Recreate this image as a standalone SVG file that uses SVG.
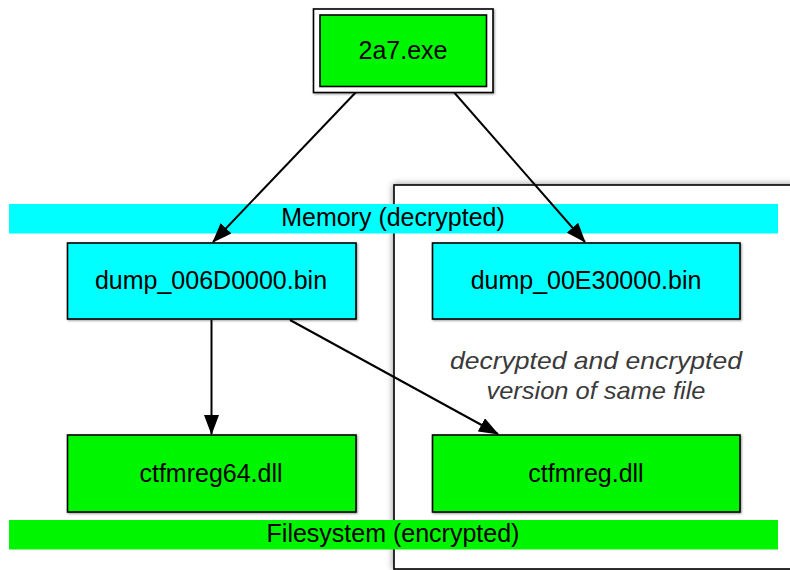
<svg xmlns="http://www.w3.org/2000/svg" width="790" height="570" viewBox="0 0 790 570">
  <defs>
    <style>
      .node { stroke: #000; stroke-width: 1.6; }
      .green { fill: #00f500; }
      .cyan { fill: #00ffff; }
      .label { font-family: "Liberation Sans", Arial, sans-serif; font-size: 25px; fill: #000; text-anchor: middle; }
      .note { font-family: "Liberation Sans", Arial, sans-serif; font-size: 24px; font-style: italic; fill: #3a3a3a; text-anchor: middle; }
      .edge { stroke: #000; stroke-width: 2; fill: none; marker-end: url(#arrow); }
    </style>
    <marker id="arrow" viewBox="0 0 20 15" refX="19" refY="7.5" markerWidth="20" markerHeight="15" markerUnits="userSpaceOnUse" orient="auto">
      <path d="M0,0 L20,7.5 L0,15 Z" fill="#000"/>
    </marker>
    <filter id="frameShadow" x="-10%" y="-10%" width="120%" height="120%">
      <feGaussianBlur in="SourceAlpha" stdDeviation="3.5"/>
      <feComponentTransfer><feFuncA type="linear" slope="0.45"/></feComponentTransfer>
      <feMerge><feMergeNode/><feMergeNode in="SourceGraphic"/></feMerge>
    </filter>
    <filter id="boxShadow" x="-5%" y="-5%" width="110%" height="115%">
      <feGaussianBlur in="SourceAlpha" stdDeviation="1"/>
      <feOffset dx="1" dy="1" result="o"/>
      <feComponentTransfer><feFuncA type="linear" slope="0.4"/></feComponentTransfer>
      <feMerge><feMergeNode/><feMergeNode in="SourceGraphic"/></feMerge>
    </filter>
  </defs>

  <rect width="790" height="570" fill="#fff"/>

  <!-- grouping frame around the two copies of the same file -->
  <g id="same-file-frame">
    <rect x="394" y="185" width="420" height="384" fill="#fff" stroke="#000" stroke-width="1.6" filter="url(#frameShadow)"/>
    <text class="note" x="596" y="369" textLength="292" lengthAdjust="spacingAndGlyphs">decrypted and encrypted</text>
    <text class="note" x="596" y="399" textLength="219" lengthAdjust="spacingAndGlyphs">version of same file</text>
  </g>

  <!-- layer bands -->
  <g id="band-memory">
    <rect class="cyan" x="9" y="204" width="769" height="29.5"/>
    <text class="label" x="393" y="226">Memory (decrypted)</text>
  </g>
  <g id="band-filesystem">
    <rect class="green" x="9" y="520" width="769" height="29.5"/>
    <text class="label" x="393" y="542">Filesystem (encrypted)</text>
  </g>

  <!-- connectors -->
  <g id="connectors">
    <line class="edge" x1="358" y1="90" x2="213" y2="242"/>
    <line class="edge" x1="452" y1="90" x2="585" y2="242"/>
    <line class="edge" x1="211.5" y1="320" x2="211.5" y2="434"/>
    <line class="edge" x1="290" y1="320" x2="498" y2="434"/>
  </g>

  <!-- nodes -->
  <g id="node-2a7">
    <rect x="313.5" y="9" width="179.5" height="83.5" fill="#fff" class="node" filter="url(#boxShadow)"/>
    <rect x="320" y="15" width="166.5" height="71.5" class="node green"/>
    <text class="label" x="403" y="59">2a7.exe</text>
  </g>
  <g id="node-dump-006D0000">
    <rect x="67.5" y="243" width="288.5" height="76" class="node cyan" filter="url(#boxShadow)"/>
    <text class="label" x="211" y="289">dump_006D0000.bin</text>
  </g>
  <g id="node-dump-00E30000">
    <rect x="432.5" y="243" width="307.5" height="76" class="node cyan" filter="url(#boxShadow)"/>
    <text class="label" x="586" y="289">dump_00E30000.bin</text>
  </g>
  <g id="node-ctfmreg64">
    <rect x="67.5" y="435" width="288.5" height="77" class="node green" filter="url(#boxShadow)"/>
    <text class="label" x="211" y="482">ctfmreg64.dll</text>
  </g>
  <g id="node-ctfmreg">
    <rect x="432.5" y="435" width="307.5" height="77" class="node green" filter="url(#boxShadow)"/>
    <text class="label" x="586" y="482">ctfmreg.dll</text>
  </g>
</svg>
